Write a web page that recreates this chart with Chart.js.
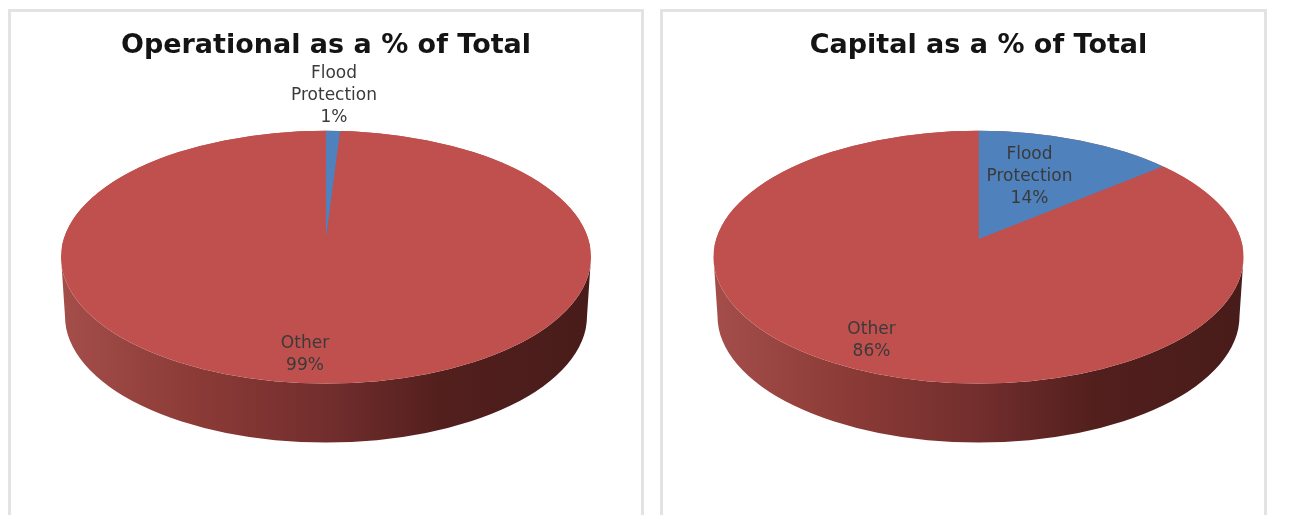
<!DOCTYPE html>
<html>
<head>
<meta charset="utf-8">
<title>Flood protection share of budget</title>
<script src="https://cdn.jsdelivr.net/npm/chart.js@4"></script>
<style>
  html, body { margin: 0; padding: 0; background: #fff; width: 1295px; height: 515px; overflow: hidden; }
  .panel { position: absolute; top: 9px; height: 520px; box-sizing: border-box; border: 3px solid #e3e3e3; }
  canvas { position: absolute; top: 10px; }
</style>
</head>
<body>
<div class="panel" style="left:8px;width:636px"></div>
<div class="panel" style="left:660px;width:607px"></div>
<canvas id="operationalChart" width="632" height="505" style="left:10px"></canvas>
<canvas id="capitalChart" width="629" height="505" style="left:664px"></canvas>
<script>
const categories = ["Flood Protection", "Other"];
const operationalValues = [1, 99];
const capitalValues = [14, 86];
const sliceColors = ["#4f81bd", "#c0504d"];

const SQUASH = 0.477;   // vertical flattening of the pie top
const DEPTH = 59;       // height of the side wall
const APEX_LIFT = 18;   // slices meet above the middle of the ellipse, like a tilted disc

// flattens the pie and puts the side wall underneath it
const tiltPlugin = {
  id: "tilt",
  beforeDatasetsDraw(chart) {
    const arc = chart.getDatasetMeta(0).data[0];
    const ctx = chart.ctx;
    const rx = arc.outerRadius, ry = rx * SQUASH;
    const cx = arc.x, cy = arc.y;

    const wall = ctx.createLinearGradient(cx - rx, 0, cx + rx, 0);
    wall.addColorStop(0, "#a44e4a");
    wall.addColorStop(0.25, "#8c3b37");
    wall.addColorStop(0.5, "#722e2d");
    wall.addColorStop(0.72, "#521f1d");
    wall.addColorStop(1, "#481c1a");

    ctx.save();
    ctx.fillStyle = wall;
    ctx.beginPath();
    ctx.moveTo(cx - rx, cy);
    ctx.ellipse(cx, cy + DEPTH, rx - 4, ry, 0, Math.PI, 0, true);
    ctx.lineTo(cx + rx, cy);
    ctx.ellipse(cx, cy, rx, ry, 0, 0, Math.PI);
    ctx.closePath();
    ctx.fill();
    ctx.restore();

    // top face: base colour, then the lifted slices cut to the same outline
    ctx.save();
    ctx.beginPath();
    ctx.ellipse(cx, cy, rx, ry, 0, 0, Math.PI * 2);
    ctx.fillStyle = sliceColors[1];
    ctx.fill();
    ctx.clip();
    ctx.translate(cx, cy - APEX_LIFT);
    ctx.scale(1, SQUASH);
    ctx.translate(-cx, -cy);
  },
  afterDatasetsDraw(chart) {
    chart.ctx.restore();
  }
};

// slice captions, category words stacked over the percentage
const captionPlugin = {
  id: "captions",
  afterDraw(chart, args, opts) {
    const ctx = chart.ctx;
    const meta = chart.getDatasetMeta(0);
    const values = chart.data.datasets[0].data;
    ctx.save();
    ctx.font = "17px 'DejaVu Sans'";
    ctx.fillStyle = "#3a3a3a";
    ctx.textAlign = "center";
    ctx.textBaseline = "middle";
    values.forEach((v, i) => {
      const lines = chart.data.labels[i].split(" ").concat(v + "%");
      const x = meta.data[i].x + opts.offsets[i][0];
      const y = meta.data[i].y + opts.offsets[i][1];
      lines.forEach((line, n) => {
        ctx.fillText(line, x, y + (n - (lines.length - 1) / 2) * 22);
      });
    });
    ctx.restore();
  }
};

function makePie(id, titleText, values, offsets) {
  return new Chart(document.getElementById(id), {
    type: "pie",
    data: {
      labels: categories,
      datasets: [{
        data: values,
        backgroundColor: sliceColors,
        borderWidth: 0,
        radius: 265,
        clip: false
      }]
    },
    options: {
      responsive: false,
      animation: false,
      layout: { padding: { bottom: 63 } },
      plugins: {
        legend: { display: false },
        tooltip: { enabled: false },
        title: {
          display: true,
          text: titleText,
          color: "#141414",
          font: { family: "'DejaVu Sans'", size: 27, weight: "bold", lineHeight: 1.2 },
          padding: { top: 20, bottom: 0 }
        },
        captions: { offsets: offsets }
      }
    },
    plugins: [tiltPlugin, captionPlugin]
  });
}

makePie("operationalChart", "Operational as a % of Total", operationalValues, [[8, -162], [-21, 97]]);
makePie("capitalChart", "Capital as a % of Total", capitalValues, [[51, -81], [-107, 83]]);
</script>
</body>
</html>
